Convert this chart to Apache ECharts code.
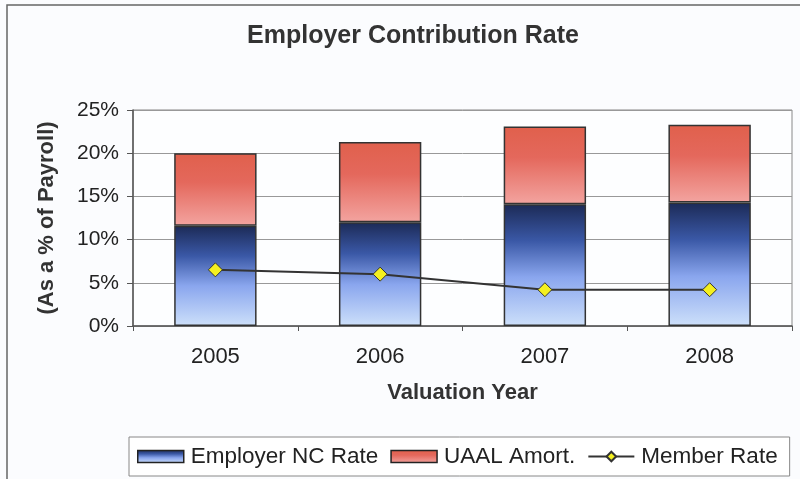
<!DOCTYPE html>
<html>
<head>
<meta charset="utf-8">
<script src="https://cdn.jsdelivr.net/npm/echarts@6/dist/echarts.min.js"></script>
<style>
  html, body { margin: 0; padding: 0; background: #fbfcfe; }
  #main { width: 800px; height: 479px; }
</style>
</head>
<body>
<div id="main"></div>
<script>
    var years = ['2005', '2006', '2007', '2008'];
    var employerNC = [11.6, 12.0, 14.1, 14.3];
    var uaalAmort = [8.4, 9.3, 9.0, 9.0];
    var memberRate = [6.5, 6.0, 4.2, 4.2];

    var myChart = echarts.init(document.getElementById('main'));

    var font = 'Liberation Sans, Arial, sans-serif';

    // 渐变填充
    var blueFill = new echarts.graphic.LinearGradient(0, 0, 0, 1, [
        { offset: 0, color: '#1c2a56' },
        { offset: 0.3, color: '#3a58a6' },
        { offset: 0.6, color: '#8aa6ee' },
        { offset: 1, color: '#cde0fa' }
    ]);
    var redFill = new echarts.graphic.LinearGradient(0, 0, 0, 1, [
        { offset: 0, color: '#e0604c' },
        { offset: 0.4, color: '#e4685c' },
        { offset: 1, color: '#f3a4a0' }
    ]);

    var option = {
        backgroundColor: '#fbfcfe',
        animation: false,
        textStyle: { fontFamily: font },
        title: {
            text: 'Employer Contribution Rate',
            left: 408,
            top: 19,
            textAlign: 'center',
            textStyle: { fontSize: 25, fontWeight: 'bold', color: '#333', fontFamily: font }
        },
        graphic: [{
            type: 'rect',
            shape: { x: 7, y: 5, width: 800, height: 490 },
            style: { fill: 'none', stroke: '#666', lineWidth: 1.5 },
            silent: true
        }],
        legend: {
            left: 129,
            top: 437,
            itemWidth: 46,
            itemHeight: 12,
            itemGap: 12,
            padding: [8, 12, 8, 8],
            borderColor: '#888',
            borderWidth: 1,
            backgroundColor: '#fff',
            textStyle: { fontSize: 22.5, color: '#222', fontFamily: font, padding: [0, 0, 0, 2] },
            data: [
                { name: 'Employer NC Rate', icon: 'rect', itemStyle: { borderColor: '#222', borderWidth: 1.5 } },
                { name: 'UAAL Amort.', icon: 'rect', itemStyle: { borderColor: '#222', borderWidth: 1.5 } },
                { name: 'Member Rate' }
            ]
        },
        grid: {
            left: 133,
            right: 8,
            top: 110,
            bottom: 153,
            show: true,
            backgroundColor: '#fdfeff',
            borderColor: '#888',
            borderWidth: 1
        },
        xAxis: {
            type: 'category',
            data: years,
            name: 'Valuation Year',
            nameLocation: 'middle',
            nameGap: 56,
            nameTextStyle: { fontSize: 22, fontWeight: 'bold', color: '#333' },
            axisLine: { lineStyle: { color: '#555', width: 1.5 } },
            axisTick: { show: true, length: 5, lineStyle: { color: '#555' } },
            axisLabel: { fontSize: 22, color: '#222', margin: 20 }
        },
        yAxis: {
            type: 'value',
            min: 0,
            max: 25,
            interval: 5,
            name: '(As a % of Payroll)',
            nameLocation: 'middle',
            nameRotate: 90,
            nameGap: 75,
            nameTextStyle: { fontSize: 22, fontWeight: 'bold', color: '#333' },
            axisLine: { show: true, lineStyle: { color: '#555', width: 1.5 } },
            axisTick: { show: true, length: 6, lineStyle: { color: '#555' } },
            axisLabel: { fontSize: 21, color: '#222', margin: 14, formatter: '{value}%' },
            splitLine: { lineStyle: { color: '#999', width: 1 } }
        },
        series: [{
            name: 'Employer NC Rate',
            type: 'bar',
            stack: 'rate',
            barWidth: '50%',
            data: employerNC,
            itemStyle: { color: blueFill, borderColor: '#333', borderWidth: 1.5 }
        }, {
            name: 'UAAL Amort.',
            type: 'bar',
            stack: 'rate',
            barWidth: '50%',
            data: uaalAmort,
            itemStyle: { color: redFill, borderColor: '#333', borderWidth: 1.5 }
        }, {
            name: 'Member Rate',
            type: 'line',
            data: memberRate,
            symbol: 'diamond',
            symbolSize: 14,
            lineStyle: { color: '#333', width: 2 },
            itemStyle: { color: '#f4f020', borderColor: '#333', borderWidth: 1 },
            z: 5
        }]
    };

    myChart.setOption(option);
</script>
</body>
</html>
